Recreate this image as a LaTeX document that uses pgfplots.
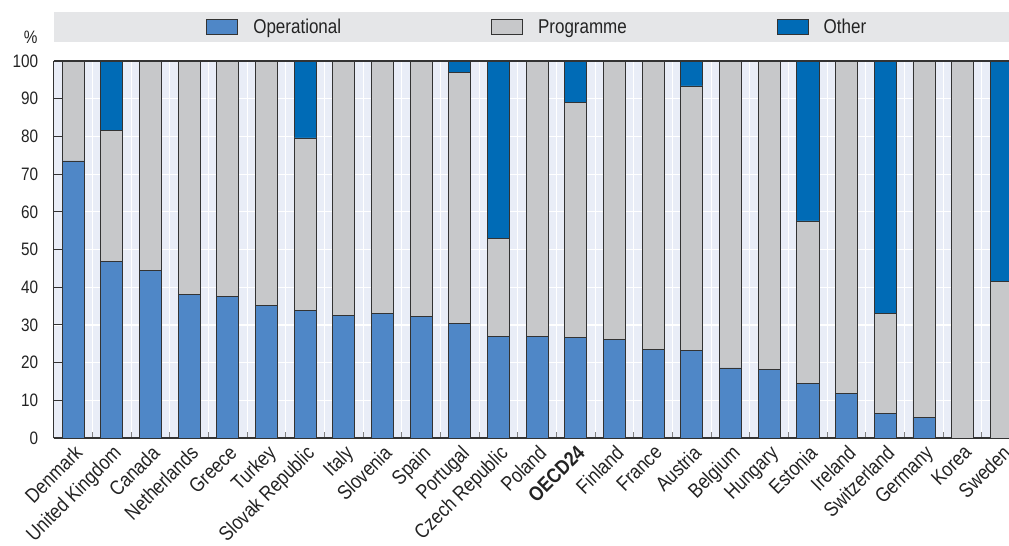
\documentclass[border=0pt]{standalone}
\usepackage{pgfplots}
\pgfplotsset{compat=1.18}
\usepackage{fontspec}
\setmainfont{Liberation Sans}[FakeStretch=0.85]

\definecolor{opblue}{RGB}{79,135,199}
\definecolor{proggray}{RGB}{199,200,202}
\definecolor{othblue}{RGB}{0,107,182}
\definecolor{bgblue}{RGB}{233,237,247}
\definecolor{bandgray}{RGB}{229,230,232}
\definecolor{edge}{RGB}{51,51,51}
\definecolor{txt}{RGB}{35,35,35}

\begin{document}
\begin{tikzpicture}
\begin{axis}[
  scale only axis, width=955pt, height=377pt,
  ybar stacked, bar width=0.57,
  xmin=-0.5, xmax=24.2, ymin=0, ymax=100,
  clip=false,
  axis background/.style={fill=bgblue},
  axis x line*=box, axis y line*=left,
  axis line style={edge, line width=1.3pt},
  /pgf/number format/assume math mode=true,
  tick label style={text=txt},
  yticklabel style={font=\fontsize{18}{21}\selectfont, xshift=-12pt},
  ytick={0,10,...,100}, ytick pos=left, tick align=inside,
  major tick length=8pt, minor tick length=6pt,
  y tick style={edge, line width=1pt},
  ymajorgrids, major grid style={white, line width=1.1pt},
  xtick={0,...,24}, xtick pos=bottom,
  major x tick style={draw=none},
  minor xtick={0.5,1.5,...,23.5},
  xminorgrids, minor grid style={white, line width=1.1pt},
  minor x tick style={gray, line width=1pt},
  xticklabels={Denmark,United Kingdom,Canada,Netherlands,Greece,Turkey,Slovak Republic,Italy,Slovenia,Spain,Portugal,Czech Republic,Poland,\textbf{OECD24},Finland,France,Austria,Belgium,Hungary,Estonia,Ireland,Switzerland,Germany,Korea,Sweden},
  xticklabel style={font=\fontsize{20.5}{23}\selectfont, rotate=45, anchor=north east, inner sep=1pt, xshift=-3pt, yshift=-3pt},
  legend columns=3,
  legend style={at={(0.5,1)}, anchor=center, xshift=6pt, yshift=34pt, draw=none, fill=none,
    font=\fontsize{20}{23}\selectfont, text=txt,
    /tikz/every odd column/.append style={column sep=13pt},
    /tikz/every even column/.append style={column sep=148pt}},
  legend cell align=left,
  area legend,
  legend image code/.code={\draw[#1] (0pt,-7.5pt) rectangle (31pt,7.5pt);},
]
\fill[bandgray] ([yshift=19pt]rel axis cs:0,1) rectangle ([yshift=49pt]rel axis cs:1,1);
\node[font=\fontsize{18}{21}\selectfont, text=txt] at ([shift={(-23pt,24pt)}]rel axis cs:0,1) {\%};
\coordinate (bl) at (rel axis cs:0,0);
\coordinate (tr) at (rel axis cs:1,1);

\addplot[fill=opblue, draw=edge, line width=0.8pt] coordinates {
(0,73.5) (1,46.9) (2,44.5) (3,38.0) (4,37.6) (5,35.3) (6,33.8) (7,32.5) (8,33.0) (9,32.2)
(10,30.3) (11,27.0) (12,26.9) (13,26.6) (14,26.1) (15,23.4) (16,23.2) (17,18.6) (18,18.3)
(19,14.5) (20,11.8) (21,6.5) (22,5.5) (23,0) (24,0)};
\addlegendentry{Operational}
\addplot[fill=proggray, draw=edge, line width=0.8pt] coordinates {
(0,26.5) (1,34.7) (2,55.5) (3,62.0) (4,62.4) (5,64.7) (6,45.8) (7,67.5) (8,67.0) (9,67.8)
(10,66.7) (11,25.9) (12,73.1) (13,62.4) (14,73.9) (15,76.6) (16,70.2) (17,81.4) (18,81.7)
(19,43.1) (20,88.2) (21,26.5) (22,94.5) (23,100) (24,41.5)};
\addlegendentry{Programme}
\addplot[fill=othblue, draw=edge, line width=0.8pt] coordinates {
(0,0) (1,18.4) (2,0) (3,0) (4,0) (5,0) (6,20.4) (7,0) (8,0) (9,0)
(10,3.0) (11,47.1) (12,0) (13,11.0) (14,0) (15,0) (16,6.6) (17,0) (18,0)
(19,42.4) (20,0) (21,67.0) (22,0) (23,0) (24,58.5)};
\addlegendentry{Other}
\end{axis}
\pgfresetboundingbox
\path[use as bounding box] ([shift={(-53.7pt,-107pt)}]bl) rectangle ([shift={(0pt,61pt)}]tr);
\end{tikzpicture}
\end{document}
